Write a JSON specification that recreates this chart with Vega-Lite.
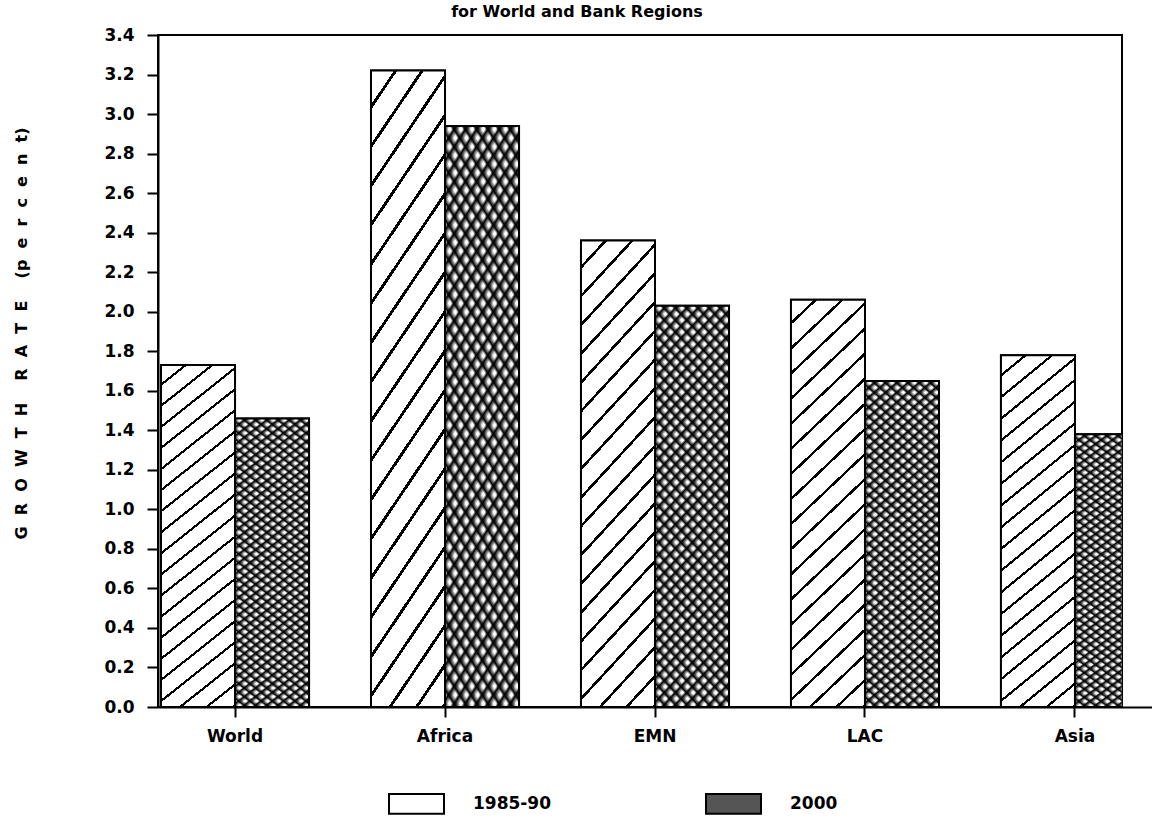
{
  "$schema": "https://vega.github.io/schema/vega-lite/v6.json",
  "width": 964,
  "height": 672,
  "autosize": {"type": "none"},
  "padding": {"left": 158, "top": 35, "right": 30, "bottom": 120},
  "title": {
    "text": "for World and Bank Regions",
    "fontSize": 16,
    "fontWeight": "bold",
    "font": "DejaVu Sans",
    "color": "black",
    "anchor": "middle",
    "dx": -63,
    "offset": 6
  },
  "data": {
    "values": [
      {"region": "World", "series": "1985-90", "rate": 1.73},
      {"region": "World", "series": "2000", "rate": 1.46},
      {"region": "Africa", "series": "1985-90", "rate": 3.22},
      {"region": "Africa", "series": "2000", "rate": 2.94},
      {"region": "EMN", "series": "1985-90", "rate": 2.36},
      {"region": "EMN", "series": "2000", "rate": 2.03},
      {"region": "LAC", "series": "1985-90", "rate": 2.06},
      {"region": "LAC", "series": "2000", "rate": 1.65},
      {"region": "Asia", "series": "1985-90", "rate": 1.78},
      {"region": "Asia", "series": "2000", "rate": 1.38}
    ]
  },
  "encoding": {
    "x": {
      "field": "region",
      "type": "nominal",
      "sort": ["World", "Africa", "EMN", "LAC", "Asia"],
      "scale": {"range": [0, 994], "paddingInner": 0.295, "paddingOuter": 0.0143},
      "axis": {
        "title": null,
        "labelAngle": 0,
        "labelFont": "DejaVu Sans",
        "labelFontSize": 17,
        "labelFontWeight": "bold",
        "labelColor": "black",
        "labelPadding": 11,
        "tickSize": 10,
        "tickWidth": 2,
        "tickColor": "black",
        "domainColor": "black",
        "domainWidth": 2
      }
    },
    "xOffset": {
      "field": "series",
      "type": "nominal",
      "scale": {"paddingInner": 0, "paddingOuter": 0}
    },
    "y": {
      "field": "rate",
      "type": "quantitative",
      "scale": {"domain": [0, 3.4], "nice": false, "zero": true},
      "axis": {
        "title": "G\u2007R\u2007O\u2007W\u2007T\u2007H\u2007\u2007R\u2007A\u2007T\u2007E\u2007\u2007(p\u2007e\u2007r\u2007c\u2007e\u2007n\u2007t)",
        "titleFont": "DejaVu Sans",
        "titleFontSize": 16,
        "titleFontWeight": "bold",
        "titleColor": "black",
        "titleAngle": 270,
        "titleAlign": "center",
        "titleBaseline": "middle",
        "titleX": -137,
        "titleY": 298,
        "values": [0, 0.2, 0.4, 0.6, 0.8, 1.0, 1.2, 1.4, 1.6, 1.8, 2.0, 2.2, 2.4, 2.6, 2.8, 3.0, 3.2, 3.4],
        "format": ".1f",
        "labelFont": "DejaVu Sans",
        "labelFontSize": 17,
        "labelFontWeight": "bold",
        "labelColor": "black",
        "labelPadding": 13,
        "tickSize": 11,
        "tickWidth": 2,
        "tickColor": "black",
        "domainColor": "black",
        "domainWidth": 2,
        "grid": false
      }
    }
  },
  "layer": [
    {
      "mark": {"type": "bar", "stroke": "black", "strokeWidth": 2, "clip": true},
      "encoding": {
        "fill": {
          "field": "series",
          "type": "nominal",
          "scale": {"domain": ["1985-90", "2000"], "range": ["#ffffff", "#555555"]},
          "legend": {
            "title": null,
            "orient": "none",
            "direction": "horizontal",
            "legendX": 230,
            "legendY": 740,
            "symbolType": "M-1,-0.36L1,-0.36L1,0.36L-1,0.36Z",
            "symbolSize": 3025,
            "symbolStrokeColor": "black",
            "symbolStrokeWidth": 2,
            "symbolOpacity": 1,
            "labelFont": "DejaVu Sans",
            "labelFontSize": 17,
            "labelFontWeight": "bold",
            "labelColor": "black",
            "labelOffset": 28,
            "columnPadding": 150
          }
        }
      }
    },
    {
      "mark": {"type": "bar", "clip": true, "strokeWidth": 0},
      "encoding": {
        "fill": {
          "condition": {
            "test": "datum.series === '2000'",
            "value": {"gradient": "linear", "x1": 0, "y1": 0, "x2": 0.228, "y2": 1.153, "stops": [
              {"offset": 0, "color": "black"}, {"offset": 0.0125, "color": "white"}, {"offset": 0.01875, "color": "white"},
              {"offset": 0.025, "color": "black"}, {"offset": 0.0375, "color": "white"}, {"offset": 0.04375, "color": "white"},
              {"offset": 0.05, "color": "black"}, {"offset": 0.0625, "color": "white"}, {"offset": 0.06875, "color": "white"},
              {"offset": 0.075, "color": "black"}, {"offset": 0.0875, "color": "white"}, {"offset": 0.09375, "color": "white"},
              {"offset": 0.1, "color": "black"}, {"offset": 0.1125, "color": "white"}, {"offset": 0.11875, "color": "white"},
              {"offset": 0.125, "color": "black"}, {"offset": 0.1375, "color": "white"}, {"offset": 0.14375, "color": "white"},
              {"offset": 0.15, "color": "black"}, {"offset": 0.1625, "color": "white"}, {"offset": 0.16875, "color": "white"},
              {"offset": 0.175, "color": "black"}, {"offset": 0.1875, "color": "white"}, {"offset": 0.19375, "color": "white"},
              {"offset": 0.2, "color": "black"}, {"offset": 0.2125, "color": "white"}, {"offset": 0.21875, "color": "white"},
              {"offset": 0.225, "color": "black"}, {"offset": 0.2375, "color": "white"}, {"offset": 0.24375, "color": "white"},
              {"offset": 0.25, "color": "black"}, {"offset": 0.2625, "color": "white"}, {"offset": 0.26875, "color": "white"},
              {"offset": 0.275, "color": "black"}, {"offset": 0.2875, "color": "white"}, {"offset": 0.29375, "color": "white"},
              {"offset": 0.3, "color": "black"}, {"offset": 0.3125, "color": "white"}, {"offset": 0.31875, "color": "white"},
              {"offset": 0.325, "color": "black"}, {"offset": 0.3375, "color": "white"}, {"offset": 0.34375, "color": "white"},
              {"offset": 0.35, "color": "black"}, {"offset": 0.3625, "color": "white"}, {"offset": 0.36875, "color": "white"},
              {"offset": 0.375, "color": "black"}, {"offset": 0.3875, "color": "white"}, {"offset": 0.39375, "color": "white"},
              {"offset": 0.4, "color": "black"}, {"offset": 0.4125, "color": "white"}, {"offset": 0.41875, "color": "white"},
              {"offset": 0.425, "color": "black"}, {"offset": 0.4375, "color": "white"}, {"offset": 0.44375, "color": "white"},
              {"offset": 0.45, "color": "black"}, {"offset": 0.4625, "color": "white"}, {"offset": 0.46875, "color": "white"},
              {"offset": 0.475, "color": "black"}, {"offset": 0.4875, "color": "white"}, {"offset": 0.49375, "color": "white"},
              {"offset": 0.5, "color": "black"}, {"offset": 0.5125, "color": "white"}, {"offset": 0.51875, "color": "white"},
              {"offset": 0.525, "color": "black"}, {"offset": 0.5375, "color": "white"}, {"offset": 0.54375, "color": "white"},
              {"offset": 0.55, "color": "black"}, {"offset": 0.5625, "color": "white"}, {"offset": 0.56875, "color": "white"},
              {"offset": 0.575, "color": "black"}, {"offset": 0.5875, "color": "white"}, {"offset": 0.59375, "color": "white"},
              {"offset": 0.6, "color": "black"}, {"offset": 0.6125, "color": "white"}, {"offset": 0.61875, "color": "white"},
              {"offset": 0.625, "color": "black"}, {"offset": 0.6375, "color": "white"}, {"offset": 0.64375, "color": "white"},
              {"offset": 0.65, "color": "black"}, {"offset": 0.6625, "color": "white"}, {"offset": 0.66875, "color": "white"},
              {"offset": 0.675, "color": "black"}, {"offset": 0.6875, "color": "white"}, {"offset": 0.69375, "color": "white"},
              {"offset": 0.7, "color": "black"}, {"offset": 0.7125, "color": "white"}, {"offset": 0.71875, "color": "white"},
              {"offset": 0.725, "color": "black"}, {"offset": 0.7375, "color": "white"}, {"offset": 0.74375, "color": "white"},
              {"offset": 0.75, "color": "black"}, {"offset": 0.7625, "color": "white"}, {"offset": 0.76875, "color": "white"},
              {"offset": 0.775, "color": "black"}, {"offset": 0.7875, "color": "white"}, {"offset": 0.79375, "color": "white"},
              {"offset": 0.8, "color": "black"}, {"offset": 0.8125, "color": "white"}, {"offset": 0.81875, "color": "white"},
              {"offset": 0.825, "color": "black"}, {"offset": 0.8375, "color": "white"}, {"offset": 0.84375, "color": "white"},
              {"offset": 0.85, "color": "black"}, {"offset": 0.8625, "color": "white"}, {"offset": 0.86875, "color": "white"},
              {"offset": 0.875, "color": "black"}, {"offset": 0.8875, "color": "white"}, {"offset": 0.89375, "color": "white"},
              {"offset": 0.9, "color": "black"}, {"offset": 0.9125, "color": "white"}, {"offset": 0.91875, "color": "white"},
              {"offset": 0.925, "color": "black"}, {"offset": 0.9375, "color": "white"}, {"offset": 0.94375, "color": "white"},
              {"offset": 0.95, "color": "black"}, {"offset": 0.9625, "color": "white"}, {"offset": 0.96875, "color": "white"},
              {"offset": 0.975, "color": "black"}, {"offset": 0.9875, "color": "white"}, {"offset": 0.99375, "color": "white"},
              {"offset": 1, "color": "black"}
            ]}
          },
          "value": {"gradient": "linear", "x1": 0, "y1": 0, "x2": 0.196, "y2": 1.138, "stops": [
            {"offset": 0, "color": "white"},
            {"offset": 0.0456, "color": "white"}, {"offset": 0.0456, "color": "black"}, {"offset": 0.0526, "color": "black"}, {"offset": 0.0526, "color": "white"},
            {"offset": 0.0983, "color": "white"}, {"offset": 0.0983, "color": "black"}, {"offset": 0.1053, "color": "black"}, {"offset": 0.1053, "color": "white"},
            {"offset": 0.1509, "color": "white"}, {"offset": 0.1509, "color": "black"}, {"offset": 0.1579, "color": "black"}, {"offset": 0.1579, "color": "white"},
            {"offset": 0.2035, "color": "white"}, {"offset": 0.2035, "color": "black"}, {"offset": 0.2105, "color": "black"}, {"offset": 0.2105, "color": "white"},
            {"offset": 0.2562, "color": "white"}, {"offset": 0.2562, "color": "black"}, {"offset": 0.2632, "color": "black"}, {"offset": 0.2632, "color": "white"},
            {"offset": 0.3088, "color": "white"}, {"offset": 0.3088, "color": "black"}, {"offset": 0.3158, "color": "black"}, {"offset": 0.3158, "color": "white"},
            {"offset": 0.3614, "color": "white"}, {"offset": 0.3614, "color": "black"}, {"offset": 0.3684, "color": "black"}, {"offset": 0.3684, "color": "white"},
            {"offset": 0.4141, "color": "white"}, {"offset": 0.4141, "color": "black"}, {"offset": 0.4211, "color": "black"}, {"offset": 0.4211, "color": "white"},
            {"offset": 0.4667, "color": "white"}, {"offset": 0.4667, "color": "black"}, {"offset": 0.4737, "color": "black"}, {"offset": 0.4737, "color": "white"},
            {"offset": 0.5193, "color": "white"}, {"offset": 0.5193, "color": "black"}, {"offset": 0.5263, "color": "black"}, {"offset": 0.5263, "color": "white"},
            {"offset": 0.5719, "color": "white"}, {"offset": 0.5719, "color": "black"}, {"offset": 0.5789, "color": "black"}, {"offset": 0.5789, "color": "white"},
            {"offset": 0.6246, "color": "white"}, {"offset": 0.6246, "color": "black"}, {"offset": 0.6316, "color": "black"}, {"offset": 0.6316, "color": "white"},
            {"offset": 0.6772, "color": "white"}, {"offset": 0.6772, "color": "black"}, {"offset": 0.6842, "color": "black"}, {"offset": 0.6842, "color": "white"},
            {"offset": 0.7298, "color": "white"}, {"offset": 0.7298, "color": "black"}, {"offset": 0.7368, "color": "black"}, {"offset": 0.7368, "color": "white"},
            {"offset": 0.7825, "color": "white"}, {"offset": 0.7825, "color": "black"}, {"offset": 0.7895, "color": "black"}, {"offset": 0.7895, "color": "white"},
            {"offset": 0.8351, "color": "white"}, {"offset": 0.8351, "color": "black"}, {"offset": 0.8421, "color": "black"}, {"offset": 0.8421, "color": "white"},
            {"offset": 0.8877, "color": "white"}, {"offset": 0.8877, "color": "black"}, {"offset": 0.8947, "color": "black"}, {"offset": 0.8947, "color": "white"},
            {"offset": 0.9404, "color": "white"}, {"offset": 0.9404, "color": "black"}, {"offset": 0.9474, "color": "black"}, {"offset": 0.9474, "color": "white"},
            {"offset": 0.993, "color": "white"}, {"offset": 0.993, "color": "black"}, {"offset": 1, "color": "black"}
          ]}
        }
      }
    },
    {
      "mark": {"type": "bar", "clip": true, "stroke": "black", "strokeWidth": 2},
      "encoding": {
        "fill": {
          "condition": {
            "test": "datum.series === '2000'",
            "value": {"gradient": "linear", "x1": 0, "y1": 1, "x2": 0.228, "y2": -0.153, "stops": [
              {"offset": 0, "color": "black"}, {"offset": 0.0125, "color": "rgba(0,0,0,0)"}, {"offset": 0.01875, "color": "rgba(0,0,0,0)"},
              {"offset": 0.025, "color": "black"}, {"offset": 0.0375, "color": "rgba(0,0,0,0)"}, {"offset": 0.04375, "color": "rgba(0,0,0,0)"},
              {"offset": 0.05, "color": "black"}, {"offset": 0.0625, "color": "rgba(0,0,0,0)"}, {"offset": 0.06875, "color": "rgba(0,0,0,0)"},
              {"offset": 0.075, "color": "black"}, {"offset": 0.0875, "color": "rgba(0,0,0,0)"}, {"offset": 0.09375, "color": "rgba(0,0,0,0)"},
              {"offset": 0.1, "color": "black"}, {"offset": 0.1125, "color": "rgba(0,0,0,0)"}, {"offset": 0.11875, "color": "rgba(0,0,0,0)"},
              {"offset": 0.125, "color": "black"}, {"offset": 0.1375, "color": "rgba(0,0,0,0)"}, {"offset": 0.14375, "color": "rgba(0,0,0,0)"},
              {"offset": 0.15, "color": "black"}, {"offset": 0.1625, "color": "rgba(0,0,0,0)"}, {"offset": 0.16875, "color": "rgba(0,0,0,0)"},
              {"offset": 0.175, "color": "black"}, {"offset": 0.1875, "color": "rgba(0,0,0,0)"}, {"offset": 0.19375, "color": "rgba(0,0,0,0)"},
              {"offset": 0.2, "color": "black"}, {"offset": 0.2125, "color": "rgba(0,0,0,0)"}, {"offset": 0.21875, "color": "rgba(0,0,0,0)"},
              {"offset": 0.225, "color": "black"}, {"offset": 0.2375, "color": "rgba(0,0,0,0)"}, {"offset": 0.24375, "color": "rgba(0,0,0,0)"},
              {"offset": 0.25, "color": "black"}, {"offset": 0.2625, "color": "rgba(0,0,0,0)"}, {"offset": 0.26875, "color": "rgba(0,0,0,0)"},
              {"offset": 0.275, "color": "black"}, {"offset": 0.2875, "color": "rgba(0,0,0,0)"}, {"offset": 0.29375, "color": "rgba(0,0,0,0)"},
              {"offset": 0.3, "color": "black"}, {"offset": 0.3125, "color": "rgba(0,0,0,0)"}, {"offset": 0.31875, "color": "rgba(0,0,0,0)"},
              {"offset": 0.325, "color": "black"}, {"offset": 0.3375, "color": "rgba(0,0,0,0)"}, {"offset": 0.34375, "color": "rgba(0,0,0,0)"},
              {"offset": 0.35, "color": "black"}, {"offset": 0.3625, "color": "rgba(0,0,0,0)"}, {"offset": 0.36875, "color": "rgba(0,0,0,0)"},
              {"offset": 0.375, "color": "black"}, {"offset": 0.3875, "color": "rgba(0,0,0,0)"}, {"offset": 0.39375, "color": "rgba(0,0,0,0)"},
              {"offset": 0.4, "color": "black"}, {"offset": 0.4125, "color": "rgba(0,0,0,0)"}, {"offset": 0.41875, "color": "rgba(0,0,0,0)"},
              {"offset": 0.425, "color": "black"}, {"offset": 0.4375, "color": "rgba(0,0,0,0)"}, {"offset": 0.44375, "color": "rgba(0,0,0,0)"},
              {"offset": 0.45, "color": "black"}, {"offset": 0.4625, "color": "rgba(0,0,0,0)"}, {"offset": 0.46875, "color": "rgba(0,0,0,0)"},
              {"offset": 0.475, "color": "black"}, {"offset": 0.4875, "color": "rgba(0,0,0,0)"}, {"offset": 0.49375, "color": "rgba(0,0,0,0)"},
              {"offset": 0.5, "color": "black"}, {"offset": 0.5125, "color": "rgba(0,0,0,0)"}, {"offset": 0.51875, "color": "rgba(0,0,0,0)"},
              {"offset": 0.525, "color": "black"}, {"offset": 0.5375, "color": "rgba(0,0,0,0)"}, {"offset": 0.54375, "color": "rgba(0,0,0,0)"},
              {"offset": 0.55, "color": "black"}, {"offset": 0.5625, "color": "rgba(0,0,0,0)"}, {"offset": 0.56875, "color": "rgba(0,0,0,0)"},
              {"offset": 0.575, "color": "black"}, {"offset": 0.5875, "color": "rgba(0,0,0,0)"}, {"offset": 0.59375, "color": "rgba(0,0,0,0)"},
              {"offset": 0.6, "color": "black"}, {"offset": 0.6125, "color": "rgba(0,0,0,0)"}, {"offset": 0.61875, "color": "rgba(0,0,0,0)"},
              {"offset": 0.625, "color": "black"}, {"offset": 0.6375, "color": "rgba(0,0,0,0)"}, {"offset": 0.64375, "color": "rgba(0,0,0,0)"},
              {"offset": 0.65, "color": "black"}, {"offset": 0.6625, "color": "rgba(0,0,0,0)"}, {"offset": 0.66875, "color": "rgba(0,0,0,0)"},
              {"offset": 0.675, "color": "black"}, {"offset": 0.6875, "color": "rgba(0,0,0,0)"}, {"offset": 0.69375, "color": "rgba(0,0,0,0)"},
              {"offset": 0.7, "color": "black"}, {"offset": 0.7125, "color": "rgba(0,0,0,0)"}, {"offset": 0.71875, "color": "rgba(0,0,0,0)"},
              {"offset": 0.725, "color": "black"}, {"offset": 0.7375, "color": "rgba(0,0,0,0)"}, {"offset": 0.74375, "color": "rgba(0,0,0,0)"},
              {"offset": 0.75, "color": "black"}, {"offset": 0.7625, "color": "rgba(0,0,0,0)"}, {"offset": 0.76875, "color": "rgba(0,0,0,0)"},
              {"offset": 0.775, "color": "black"}, {"offset": 0.7875, "color": "rgba(0,0,0,0)"}, {"offset": 0.79375, "color": "rgba(0,0,0,0)"},
              {"offset": 0.8, "color": "black"}, {"offset": 0.8125, "color": "rgba(0,0,0,0)"}, {"offset": 0.81875, "color": "rgba(0,0,0,0)"},
              {"offset": 0.825, "color": "black"}, {"offset": 0.8375, "color": "rgba(0,0,0,0)"}, {"offset": 0.84375, "color": "rgba(0,0,0,0)"},
              {"offset": 0.85, "color": "black"}, {"offset": 0.8625, "color": "rgba(0,0,0,0)"}, {"offset": 0.86875, "color": "rgba(0,0,0,0)"},
              {"offset": 0.875, "color": "black"}, {"offset": 0.8875, "color": "rgba(0,0,0,0)"}, {"offset": 0.89375, "color": "rgba(0,0,0,0)"},
              {"offset": 0.9, "color": "black"}, {"offset": 0.9125, "color": "rgba(0,0,0,0)"}, {"offset": 0.91875, "color": "rgba(0,0,0,0)"},
              {"offset": 0.925, "color": "black"}, {"offset": 0.9375, "color": "rgba(0,0,0,0)"}, {"offset": 0.94375, "color": "rgba(0,0,0,0)"},
              {"offset": 0.95, "color": "black"}, {"offset": 0.9625, "color": "rgba(0,0,0,0)"}, {"offset": 0.96875, "color": "rgba(0,0,0,0)"},
              {"offset": 0.975, "color": "black"}, {"offset": 0.9875, "color": "rgba(0,0,0,0)"}, {"offset": 0.99375, "color": "rgba(0,0,0,0)"},
              {"offset": 1, "color": "black"}
            ]}
          },
          "value": "transparent"
        }
      }
    }
  ],
  "config": {
    "view": {"stroke": "black", "strokeWidth": 2},
    "background": "white"
  }
}
